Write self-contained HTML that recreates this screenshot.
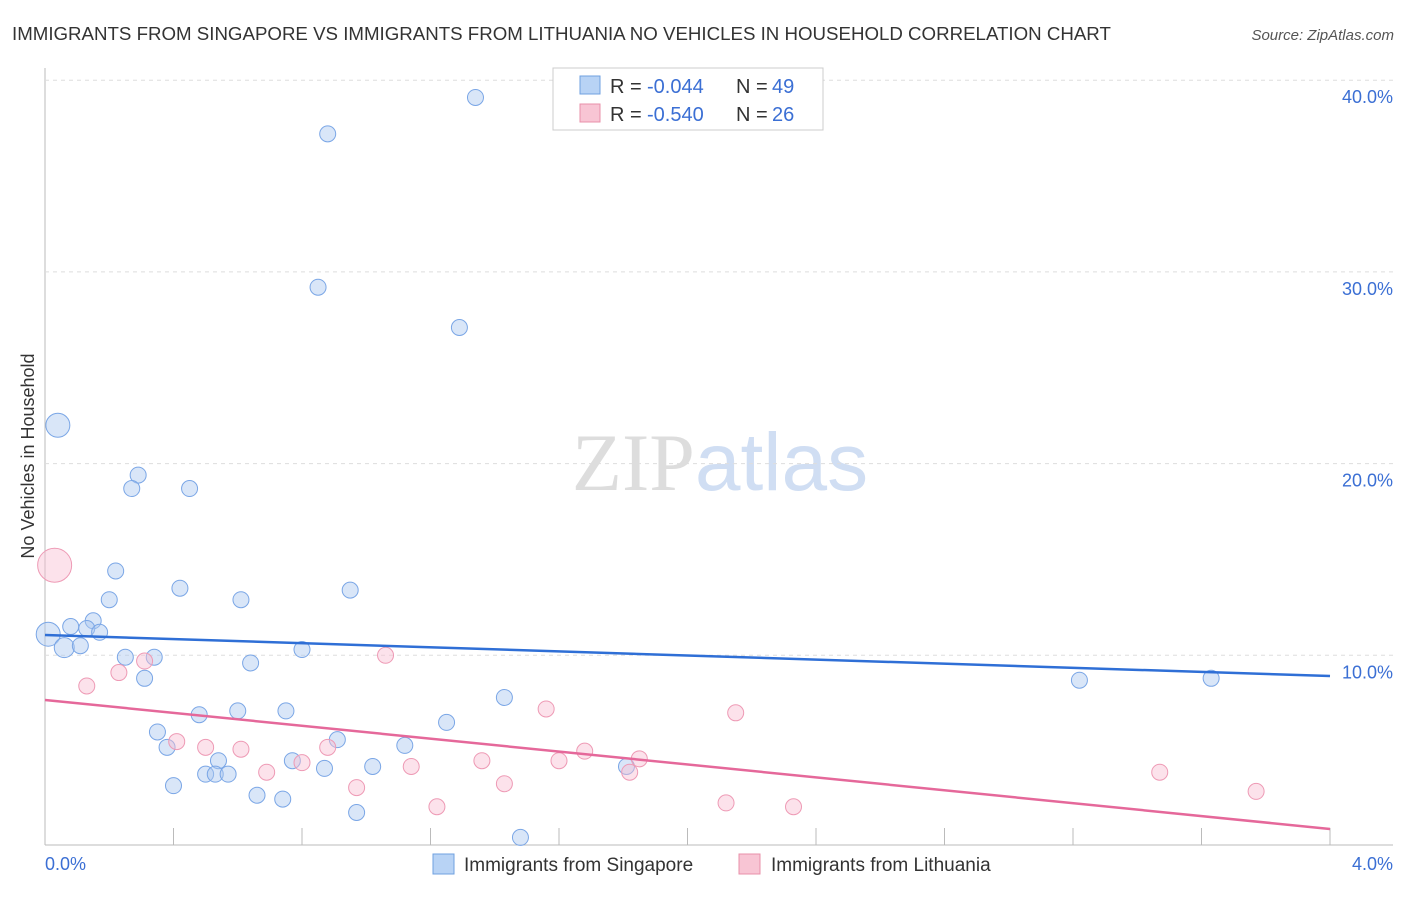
<!DOCTYPE html>
<html><head><meta charset="utf-8"><style>
body{margin:0;background:#fff;font-family:"Liberation Sans",sans-serif}
svg text{font-family:"Liberation Sans",sans-serif}
</style></head><body>
<svg id="chart" width="1406" height="892" xmlns="http://www.w3.org/2000/svg">
<text x="12" y="40" font-size="18.7" fill="#333">IMMIGRANTS FROM SINGAPORE VS IMMIGRANTS FROM LITHUANIA NO VEHICLES IN HOUSEHOLD CORRELATION CHART</text>
<text x="1394" y="40" font-size="15" fill="#555" font-style="italic" text-anchor="end">Source: ZipAtlas.com</text>
<text x="720" y="490" font-size="82" text-anchor="middle"><tspan fill="#ddd" font-family="Liberation Serif">ZIP</tspan><tspan fill="#d0def3">atlas</tspan></text>
<text transform="translate(34,456) rotate(-90)" font-size="18" fill="#333" text-anchor="middle">No Vehicles in Household</text>
<g id="grid"></g><g id="pts"></g><g id="trend"></g>
<g>
<rect x="553" y="68" width="270" height="62" fill="#fff" stroke="#ccc"/>
<rect x="580" y="76" width="20" height="18" fill="#b8d3f5" stroke="#6fa0e0"/>
<rect x="580" y="104" width="20" height="18" fill="#f8c5d4" stroke="#e890aa"/>
<text x="610" y="93" font-size="20" fill="#333">R =</text>
<text x="647" y="93" font-size="20" fill="#3b6fd4">-0.044</text>
<text x="736" y="93" font-size="20" fill="#333">N =</text>
<text x="772" y="93" font-size="20" fill="#3b6fd4">49</text>
<text x="610" y="121" font-size="20" fill="#333">R =</text>
<text x="647" y="121" font-size="20" fill="#3b6fd4">-0.540</text>
<text x="736" y="121" font-size="20" fill="#333">N =</text>
<text x="772" y="121" font-size="20" fill="#3b6fd4">26</text>
</g>
<g>
<rect x="433" y="854" width="21" height="20" fill="#b8d3f5" stroke="#6fa0e0"/>
<text x="464" y="871" font-size="19" fill="#333">Immigrants from Singapore</text>
<rect x="739" y="854" width="21" height="20" fill="#f8c5d4" stroke="#e890aa"/>
<text x="771" y="871" font-size="19" fill="#333">Immigrants from Lithuania</text>
</g>
</svg>
<script>
const xTicks=[0,0.4,0.8,1.2,1.6,2.0,2.4,2.8,3.2,3.6,4.0];
const yTicks=[10,20,30,40];
const blueX=[1.34,0.88,0.85,1.29,0.04,0.29,0.27,0.45,0.22,0.42,0.95,0.20,0.61,0.15,0.08,0.13,0.17,0.01,0.06,0.11,0.80,0.25,0.34,0.64,0.31,3.22,3.63,1.43,0.48,0.60,0.75,1.25,0.35,0.91,1.12,0.38,0.54,0.77,0.87,1.02,0.50,0.53,0.57,0.40,0.66,0.74,0.97,1.48,1.81];
const blueY=[39.1,37.2,29.2,27.1,22.0,19.4,18.7,18.7,14.4,13.5,13.4,12.9,12.9,11.8,11.5,11.4,11.2,11.1,10.4,10.5,10.3,9.9,9.9,9.6,8.8,8.7,8.8,7.8,6.9,7.1,7.1,6.5,6.0,5.6,5.3,5.2,4.5,4.5,4.1,4.2,3.8,3.8,3.8,3.2,2.7,2.5,1.8,0.5,4.2];
const blueR=[8,8,8,8,12,8,8,8,8,8,8,8,8,8,8,8,8,12,10,8,8,8,8,8,8,8,8,8,8,8,8,8,8,8,8,8,8,8,8,8,8,8,8,8,8,8,8,8,8];
const pinkX=[0.03,0.13,0.23,0.31,1.06,0.41,0.50,0.61,0.88,0.69,0.80,1.14,0.97,1.43,1.36,1.56,1.60,1.68,1.85,1.82,2.15,1.22,2.12,2.33,3.47,3.77];
const pinkY=[14.7,8.4,9.1,9.7,10.0,5.5,5.2,5.1,5.2,3.9,4.4,4.2,3.1,3.3,4.5,7.2,4.5,5.0,4.6,3.9,7.0,2.1,2.3,2.1,3.9,2.9];
const pinkR=[17,8,8,8,8,8,8,8,8,8,8,8,8,8,8,8,8,8,8,8,8,8,8,8,8,8];
const blueTrend=[11.06,8.92];
const pinkTrend=[7.67,0.94];
const NS="http://www.w3.org/2000/svg";
const X=v=>45+v*321.25, Y=v=>847-v*19.17;
function mk(t,a,p){const e=document.createElementNS(NS,t);for(const k in a)e.setAttribute(k,a[k]);p.appendChild(e);return e;}
const grid=document.getElementById('grid');
const ax=mk('line',{x1:45,y1:68,x2:45,y2:845,stroke:'#bbb'},grid);


const bx=mk('line',{x1:45,y1:845,x2:1393,y2:845,stroke:'#bbb'},grid);


yTicks.forEach(t=>{
 const g=mk('line',{x1:45,y1:Y(t),x2:1393,y2:Y(t),stroke:'#ddd','stroke-dasharray':'4,4'},grid);
 
 
 const l=mk('text',{x:1393,y:Y(t)+23,'font-size':18,fill:'#3b6fd4','text-anchor':'end'},grid);
 l.textContent=t.toFixed(1)+'%';
 
 
});
xTicks.forEach((t,i)=>{
 if(i>0){const m=mk('line',{x1:X(t),y1:828,x2:X(t),y2:845,stroke:'#bbb'},grid);
 
 }
});
[[0,'start',45],[4,'end',1393]].forEach(([v,a,x])=>{
 const l=mk('text',{x:x,y:870,'font-size':18,fill:'#3b6fd4','text-anchor':a},grid);
 l.textContent=v.toFixed(1)+'%';
 
 
});
const pts=document.getElementById('pts');
blueX.forEach((v,i)=>{const c=mk('circle',{cx:X(v),cy:Y(blueY[i]),r:blueR[i],fill:'rgba(170,200,240,0.45)',stroke:'#7aa6e6','stroke-width':1},pts);
 
 });
pinkX.forEach((v,i)=>{const c=mk('circle',{cx:X(v),cy:Y(pinkY[i]),r:pinkR[i],fill:'rgba(248,190,210,0.45)',stroke:'#ee9ab5','stroke-width':1},pts);
 
 });
const tr=document.getElementById('trend');
const t1=mk('line',{x1:X(0),y1:Y(blueTrend[0]),x2:X(4),y2:Y(blueTrend[1]),stroke:'#2f6fd6','stroke-width':2.5},tr);


const t2=mk('line',{x1:X(0),y1:Y(pinkTrend[0]),x2:X(4),y2:Y(pinkTrend[1]),stroke:'#e5689a','stroke-width':2.5},tr);


</script>
</body></html>
